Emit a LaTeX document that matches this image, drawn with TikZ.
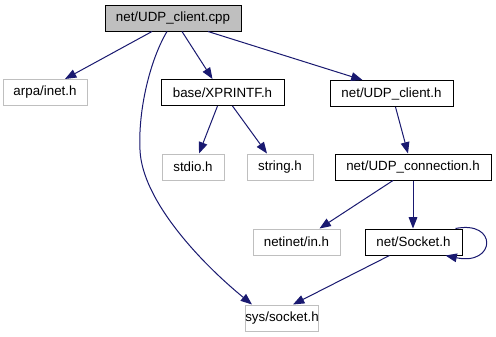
\documentclass[tikz,border=0pt]{standalone}
\usepackage{fontspec}
\setmainfont{Liberation Sans}
\usetikzlibrary{arrows.meta,calc}
\definecolor{edgeblue}{RGB}{25,25,112}
\definecolor{boxgray}{RGB}{191,191,191}
\begin{document}
\begin{tikzpicture}[x=0.75pt,y=-0.75pt,
  font=\fontsize{10pt}{12pt}\selectfont,
  wd/.style={minimum width=#1*0.75pt},
  filebox/.style={draw=black,line width=0.75pt,fill=white,minimum height=19.5pt,inner sep=0pt,text=black},
  extbox/.style={filebox,draw=boxgray},
  rootbox/.style={filebox,fill=boxgray},
  dep/.style={draw=edgeblue,line width=0.75pt,-{Triangle[length=8.5pt,width=6.5pt]},fill=none}]
\useasboundingbox (0,0) rectangle (496,336);
\fill[white] (0,0) rectangle (496,336);

% include graph nodes
\node[rootbox,wd=136] (cpp) at (173,18) {net/UDP\_client.cpp};
\node[extbox,wd=84] (arpa) at (45,92.5) {arpa/inet.h};
\node[filebox,wd=123] (xpr) at (222.5,92.5) {base/XPRINTF.h};
\node[filebox,wd=123] (udph) at (391.5,93.5) {net/UDP\_client.h};
\node[extbox,wd=62] (stdio) at (193,167) {stdio.h};
\node[extbox,wd=66] (string) at (280,167) {string.h};
\node[filebox,wd=156] (conn) at (413,167) {net/UDP\_connection.h};
\node[extbox,wd=87] (netinet) at (296.5,242) {netinet/in.h};
\node[filebox,wd=97] (sock) at (413.5,242) {net/Socket.h};
\node[extbox,wd=70] (sys) at (282,318) {sys/socket.h};

% include edges
\draw[dep] ($(cpp.south)+(-21,0)$) -- ($(arpa.north)+(20,0)$);
\draw[dep] ($(cpp.south)+(9,0)$) -- ($(xpr.north)+(-10,0)$);
\draw[dep] ($(cpp.south)+(35,0)$) -- ($(udph.north)+(-29,0)$);
\draw[dep] ($(cpp.south)+(-6,0)$) .. controls (150,60) and (138,110) .. (140,150)
  .. controls (142,200) and (200,262) .. ($(sys.north)+(-30,0)$);
\draw[dep] ($(xpr.south)+(-5,0)$) -- ($(stdio.north)+(6,0)$);
\draw[dep] ($(xpr.south)+(10,0)$) -- ($(string.north)+(-13,0)$);
\draw[dep] ($(udph.south)+(4,0)$) -- ($(conn.north)+(-5,0)$);
\draw[dep] ($(conn.south)+(-20,0)$) -- ($(netinet.north)+(23,0)$);
\draw[dep] (conn.south) -- (sock.north-|conn.south);
\draw[dep] ($(sock.south)+(-24,0)$) -- ($(sys.north)+(11,0)$);
\draw[dep] ($(sock.north east)+(-7,0)$) .. controls (498,220) and (496,266) .. ($(sock.south east)+(-17,0)$);
\end{tikzpicture}
\end{document}
